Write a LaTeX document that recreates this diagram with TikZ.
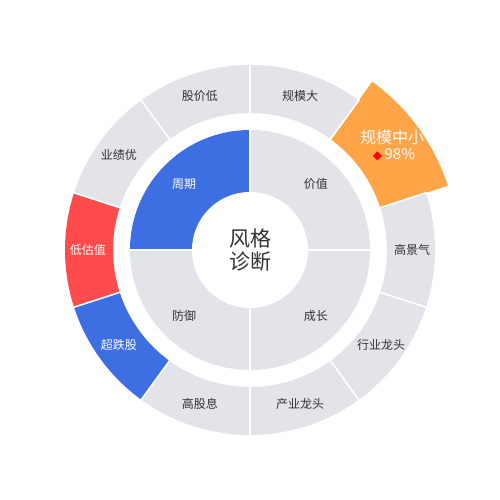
\documentclass[tikz,border=0pt]{standalone}
\usepackage{fontspec}
\setmainfont{Noto Sans CJK SC}
\newfontfamily\symfont{DejaVu Sans}
\usepackage{xcolor}
\definecolor{ringgray}{HTML}{E3E4EA}
\definecolor{cycblue}{HTML}{3D6FE3}
\definecolor{lowred}{HTML}{FF4B4B}
\definecolor{hotorange}{HTML}{FFA548}
\definecolor{labeltext}{HTML}{333333}

\tikzset{
  gapline/.style={white, line width=1.6pt},
  outerlabel/.style={font=\fontsize{12}{14}\selectfont, inner sep=0pt},
  innerlabel/.style={font=\fontsize{12}{14}\selectfont, inner sep=0pt, text=labeltext},
}

\begin{document}
\begin{tikzpicture}[x=1pt,y=1pt]
      % Page
      \fill[white] (-250,-250) rectangle (250,250);
      \useasboundingbox (-250,-250) rectangle (250,250);

      % Outer ring segments
      \foreach \a/\txt/\col/\tc in {54/规模大/ringgray/labeltext, 90/股价低/ringgray/labeltext,
          126/业绩优/ringgray/labeltext, 162/低估值/lowred/white, 198/超跌股/cycblue/white,
          234/高股息/ringgray/labeltext, 270/产业龙头/ringgray/labeltext,
          306/行业龙头/ringgray/labeltext, 342/高景气/ringgray/labeltext}{
        \fill[\col] (\a:137pt) arc[start angle=\a, delta angle=36, radius=137pt]
          -- ({\a+36}:185pt) arc[start angle={\a+36}, delta angle=-36, radius=185pt] -- cycle;
        \node[outerlabel, text=\tc] (seg\a) at ({\a+18}:162pt) {\txt};
      }

      % Highlighted segment
      \fill[hotorange] (18:137pt) arc[start angle=18, end angle=54, radius=137pt]
        -- (54:208pt) arc[start angle=54, end angle=18, radius=208pt] -- cycle;
      \node[white, inner sep=0pt, font=\fontsize{16}{19}\selectfont] (seg18) at (142,113) {规模中小};
      \node[white, inner sep=0pt, font=\fontsize{15}{17}\selectfont] (seg18val) at (144,95)
        {{\symfont\fontsize{12}{13}\selectfont\color{red}◆}\,98\%};

      % Inner ring quadrants
      \foreach \a/\txt/\col/\tc in {0/价值/ringgray/labeltext, 90/周期/cycblue/white,
          180/防御/ringgray/labeltext, 270/成长/ringgray/labeltext}{
        \fill[\col] (0,0) -- (\a:120pt) arc[start angle=\a, delta angle=90, radius=120pt] -- cycle;
        \node[innerlabel, text=\tc] (quad\a) at ({\a+45}:93pt) {\txt};
      }

      % Separators
      \foreach \a in {18,54,...,342}
        \draw[gapline] (\a:136pt) -- (\a:186pt);
      \foreach \a in {0,90,180,270}
        \draw[gapline] (0,0) -- (\a:121pt);

      % Centre
      \fill[white] (0,0) circle (58pt);
      \node[align=center, text=labeltext, inner sep=0pt,
        font=\fontsize{21}{23}\selectfont] (centre) at (0,0) {风格\\诊断};

  \end{tikzpicture}
\end{document}
